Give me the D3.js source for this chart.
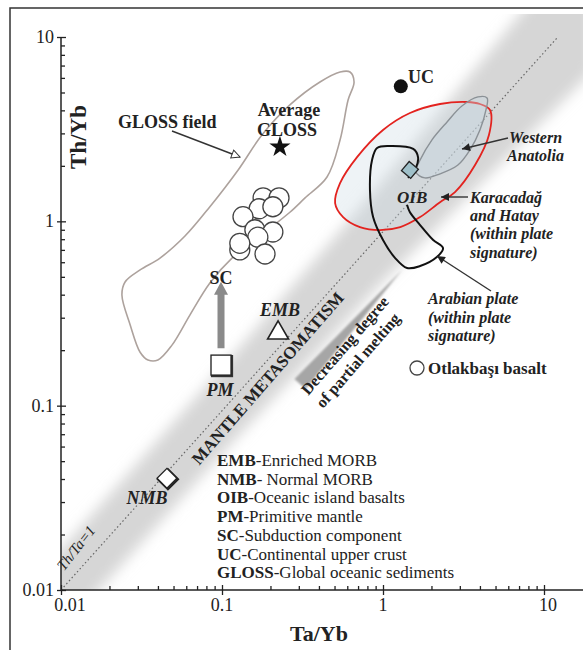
<!DOCTYPE html>
<meta charset="utf-8">
<html>
<head>
<title>Th/Yb vs Ta/Yb</title>
<style>
  body { margin: 0; background: #fff; }
  svg text { font-family: "Liberation Serif", "Times New Roman", serif; fill: #222; }
</style>
</head>
<body>
<svg width="583" height="650"></svg>
<script src="https://cdn.jsdelivr.net/npm/d3@7/dist/d3.min.js"></script>
<script>

// ---- data (Ta/Yb, Th/Yb) ----
var basaltTa = [0.180, 0.226, 0.170, 0.207, 0.135, 0.160, 0.207, 0.167, 0.129, 0.129, 0.185];
var basaltTh = [1.34, 1.34, 1.17, 1.20, 1.06, 0.90, 0.875, 0.82, 0.70, 0.76, 0.665];

var refNames = ["UC", "GLOSS", "EMB", "PM", "NMB", "OIB"];
var refTa = [1.29, 0.229, 0.223, 0.0986, 0.0455, 1.47];
var refTh = [5.4, 2.53, 0.248, 0.166, 0.0404, 1.90];

// GLOSS field outline
var glossTa = [0.624, 0.661, 0.607, 0.541, 0.449, 0.328, 0.264, 0.185, 0.117, 0.0841, 0.0633, 0.0489, 0.040, 0.0347,
               0.031, 0.0269, 0.0239, 0.025, 0.031, 0.0412, 0.0589, 0.0841, 0.126, 0.177, 0.264, 0.406, 0.541];
var glossTh = [6.46, 5.70, 4.55, 2.76, 1.74, 1.34, 1.12, 0.875, 0.640, 0.463, 0.311, 0.213, 0.177, 0.177,
               0.195, 0.274, 0.398, 0.469, 0.545, 0.632, 0.832, 1.20, 1.90, 2.94, 4.28, 5.70, 6.46];

// Karacadag and Hatay field (red)
var karaTa = [4.00, 4.62, 4.55, 3.73, 2.80, 2.26, 1.70, 1.28, 0.957, 0.719, 0.565, 0.504, 0.541, 0.690, 1.00, 1.47, 2.26, 3.32];
var karaTh = [4.33, 4.02, 2.94, 2.02, 1.44, 1.27, 1.055, 0.931, 0.897, 0.931, 1.055, 1.257, 1.61, 2.23, 3.13, 3.87, 4.33, 4.44];

// Arabian plate field (black, open at the OIB label)
var arabTa = [1.43, 1.60, 1.65, 1.54, 1.10, 0.919, 0.855, 0.830, 0.868, 1.00, 1.19, 1.41, 1.70, 2.16, 2.36, 2.05, 1.70, 1.47, 1.41];
var arabTh = [1.72, 1.95, 2.23, 2.47, 2.56, 2.50, 2.15, 1.48, 1.055, 0.792, 0.632, 0.558, 0.572, 0.640, 0.716, 0.792, 0.955, 1.12, 1.23];

// Western Anatolia field
var wanaTa = [1.60, 1.70, 2.01, 2.50, 3.09, 3.89, 4.43, 4.36, 4.00, 3.47, 2.92, 2.26, 1.82];
var wanaTh = [1.85, 2.15, 2.76, 3.46, 4.22, 4.73, 4.67, 4.02, 3.13, 2.44, 2.02, 1.81, 1.72];

// Th/Ta = 1 reference line, as drawn on the original
var lineTa = [0.01, 12.2];
var lineTh = [0.01, 10];

// MORB-OIB mantle array (grey band)
var bandTa = [0.006, 0.1, 1, 20];
var bandLo = [0.0036, 0.055, 0.47, 6.5];
var bandHi = [0.0100, 0.16, 1.65, 40];

var majorTicks = [0.01, 0.1, 1, 10];
var tickLabels = ["0.01", "0.1", "1", "10"];

var legendAbbr = ["EMB", "NMB", "OIB", "PM", "SC", "UC", "GLOSS"];
var legendText = ["-Enriched MORB", "- Normal MORB", "-Oceanic island basalts", "-Primitive mantle",
                  "-Subduction component", "-Continental upper crust", "-Global oceanic sediments"];

// ---- chart ----
var svg = d3.select("svg"),
    W = +svg.attr("width"),
    H = +svg.attr("height");

var x = d3.scaleLog().domain([0.01, 10]).range([61, 544]);
var y = d3.scaleLog().domain([0.01, 10]).range([590, 37]);

var minorTicks = [];
[0.01, 0.1, 1].forEach(function(d) {
    for (var k = 2; k <= 9; k++) minorTicks.push(d * k);
});

var defs = svg.append("defs");
defs.append("filter").attr("id", "blur")
    .attr("x", "-30%").attr("y", "-30%").attr("width", "160%").attr("height", "160%")
    .append("feGaussianBlur").attr("stdDeviation", 7);
defs.append("filter").attr("id", "soft")
    .append("feGaussianBlur").attr("stdDeviation", 1.3);
defs.append("clipPath").attr("id", "plotclip")
    .append("rect").attr("x", 61).attr("y", 14).attr("width", W - 61).attr("height", 590 - 14);

defs.append("marker").attr("id", "head")
    .attr("viewBox", "0 0 10 10").attr("refX", 10).attr("refY", 5)
    .attr("markerUnits", "userSpaceOnUse").attr("markerWidth", 10).attr("markerHeight", 8)
    .attr("orient", "auto")
    .append("path").attr("d", "M0,0L10,5L0,10z").attr("fill", "#222");
defs.append("marker").attr("id", "openhead")
    .attr("viewBox", "-1 -1 12 12").attr("refX", 10).attr("refY", 5)
    .attr("markerUnits", "userSpaceOnUse").attr("markerWidth", 12).attr("markerHeight", 10)
    .attr("orient", "auto")
    .append("path").attr("d", "M0,0L10,5L0,10z").attr("fill", "#fff").attr("stroke", "#333").attr("stroke-width", 1.2);

// frame
svg.append("path").attr("d", "M10," + H + "V8H" + W)
    .attr("fill", "none").attr("stroke", "#333").attr("stroke-width", 1.5);

var plot = svg.append("g").attr("clip-path", "url(#plotclip)");

// grey mantle array
var bandPts = bandTa.map(function(t, i) { return [x(t), y(bandHi[i])]; })
    .concat(bandTa.slice().reverse().map(function(t, i) { return [x(t), y(bandLo[bandTa.length - 1 - i])]; }));
plot.append("path")
    .attr("d", d3.line()(bandPts) + "Z")
    .attr("fill", "#d6d6d6")
    .attr("filter", "url(#blur)");

// Th/Ta = 1 line
plot.append("line")
    .attr("x1", x(lineTa[0])).attr("y1", y(lineTh[0]))
    .attr("x2", x(lineTa[1])).attr("y2", y(lineTh[1]))
    .attr("stroke", "#666").attr("stroke-width", 1.2).attr("stroke-dasharray", "1.5,2.5");

// partial melting arrow (tapered)
function taper(x1, y1, x2, y2, w) {
    var dx = x2 - x1, dy = y2 - y1, L = Math.sqrt(dx * dx + dy * dy);
    var nx = -dy / L * w / 2, ny = dx / L * w / 2;
    return "M" + (x1 + nx) + "," + (y1 + ny) + "L" + (x1 - nx) + "," + (y1 - ny) + "L" + x2 + "," + y2 + "Z";
}
svg.append("path").attr("d", taper(300, 384, 402, 270, 15))
    .attr("fill", "#a6a6a6").attr("filter", "url(#soft)");

// fields
var smooth = d3.line().curve(d3.curveCatmullRomClosed.alpha(0.5));
var smoothOpen = d3.line().curve(d3.curveCatmullRom.alpha(0.5));

svg.append("path")
    .attr("d", smooth(karaTa.map(function(t, i) { return [x(t), y(karaTh[i])]; })))
    .attr("fill", "rgba(205,222,230,0.35)").attr("stroke", "#e3231f").attr("stroke-width", 1.8);

svg.append("path")
    .attr("d", smooth(wanaTa.map(function(t, i) { return [x(t), y(wanaTh[i])]; })))
    .attr("fill", "rgba(200,215,225,0.4)").attr("stroke", "#8b9196").attr("stroke-width", 1.4);

svg.append("path")
    .attr("d", smoothOpen(arabTa.map(function(t, i) { return [x(t), y(arabTh[i])]; })))
    .attr("fill", "none").attr("stroke", "#111").attr("stroke-width", 2);

svg.append("path")
    .attr("d", smooth(glossTa.map(function(t, i) { return [x(t), y(glossTh[i])]; })))
    .attr("fill", "none").attr("stroke", "#ada29d").attr("stroke-width", 1.6);

// SC arrow from PM
var pmX = x(refTa[3]);
svg.append("path")
    .attr("d", "M" + (pmX - 3.5) + "," + y(0.205) + "V" + y(0.40) + "H" + (pmX - 7) +
        "L" + pmX + "," + y(0.47) + "L" + (pmX + 7) + "," + y(0.40) + "H" + (pmX + 3.5) + "V" + y(0.205) + "Z")
    .attr("fill", "#8a8a8a");

// axes
var axG = svg.append("g");
axG.append("g").attr("transform", "translate(0,590)")
    .call(d3.axisBottom(x).tickValues(minorTicks).tickSize(-4).tickFormat(""))
    .call(function(g) { g.select(".domain").remove(); });
axG.append("g").attr("transform", "translate(0,590)")
    .call(d3.axisBottom(x).tickValues(majorTicks).tickSize(5).tickFormat(""))
    .call(function(g) { g.select(".domain").remove(); });
axG.append("g").attr("transform", "translate(0,590)")
    .call(d3.axisTop(x).tickValues(majorTicks).tickSize(5).tickFormat(""))
    .call(function(g) { g.select(".domain").remove(); });
axG.append("g").attr("transform", "translate(61,0)")
    .call(d3.axisLeft(y).tickValues(minorTicks).tickSize(-4).tickFormat(""))
    .call(function(g) { g.select(".domain").remove(); });
axG.append("g").attr("transform", "translate(61,0)")
    .call(d3.axisLeft(y).tickValues(majorTicks).tickSize(4).tickFormat(""))
    .call(function(g) { g.select(".domain").remove(); });
axG.append("g").attr("transform", "translate(61,0)")
    .call(d3.axisRight(y).tickValues(majorTicks).tickSize(5).tickFormat(""))
    .call(function(g) { g.select(".domain").remove(); });
axG.selectAll("line").attr("stroke", "#222").attr("stroke-width", 1.3);
axG.append("line").attr("x1", 61).attr("x2", W).attr("y1", 590).attr("y2", 590)
    .attr("stroke", "#222").attr("stroke-width", 1.5);
axG.append("line").attr("x1", 61).attr("x2", 61).attr("y1", 37).attr("y2", 590)
    .attr("stroke", "#222").attr("stroke-width", 1.5);

svg.selectAll(".xlab").data(majorTicks).enter().append("text")
    .attr("x", function(d, i) { return x(d) + (i === 0 ? 9 : (i === 3 ? 4 : 0)); })
    .attr("y", 611).attr("text-anchor", "middle").attr("font-size", 18)
    .text(function(d, i) { return tickLabels[i]; });
svg.selectAll(".ylab").data(majorTicks).enter().append("text")
    .attr("x", 54).attr("y", function(d) { return y(d) + 6; })
    .attr("text-anchor", "end").attr("font-size", 18)
    .text(function(d, i) { return tickLabels[i]; });

svg.append("text").attr("x", 319).attr("y", 641).attr("text-anchor", "middle")
    .attr("font-size", 22).attr("font-weight", "bold").text("Ta/Yb");
svg.append("text").attr("transform", "translate(86,137) rotate(-90)").attr("text-anchor", "middle")
    .attr("font-size", 23).attr("font-weight", "bold").text("Th/Yb");

// rotated band labels
var bandAngle = -49;
svg.append("text").attr("transform", "translate(272,382) rotate(" + bandAngle + ")")
    .attr("text-anchor", "middle").attr("font-size", 17).attr("font-weight", "bold")
    .attr("fill", "#333").text("MANTLE METASOMATISM");
svg.append("text").attr("transform", "translate(349,349) rotate(" + bandAngle + ")")
    .attr("text-anchor", "middle").attr("font-size", 16).attr("font-weight", "bold")
    .text("Decreasing degree");
svg.append("text").attr("transform", "translate(362,364) rotate(" + bandAngle + ")")
    .attr("text-anchor", "middle").attr("font-size", 16).attr("font-weight", "bold")
    .text("of partial melting");
svg.append("text").attr("transform", "translate(80,551) rotate(-52)")
    .attr("text-anchor", "middle").attr("font-size", 15).attr("font-style", "italic")
    .attr("fill", "#444").text("Th/Ta=1");

// reference compositions
svg.append("circle").attr("cx", x(refTa[0])).attr("cy", y(refTh[0])).attr("r", 7).attr("fill", "#111");
svg.append("path").attr("transform", "translate(" + x(refTa[1]) + "," + y(refTh[1]) + ")")
    .attr("d", d3.symbol().type(d3.symbolStar).size(140)()).attr("fill", "#111");
var tri = d3.symbol().type(d3.symbolTriangle).size(190)();
svg.append("path").attr("transform", "translate(" + x(refTa[2]) + "," + y(refTh[2]) + ")")
    .attr("d", tri).attr("fill", "#fff").attr("stroke", "#222").attr("stroke-width", 1.6);
svg.append("rect").attr("x", x(refTa[3]) - 9).attr("y", y(refTh[3]) - 9)
    .attr("width", 20).attr("height", 20)
    .attr("fill", "none").attr("stroke", "#333").attr("stroke-width", 2.2);
svg.append("rect").attr("x", x(refTa[3]) - 10).attr("y", y(refTh[3]) - 10)
    .attr("width", 20).attr("height", 20)
    .attr("fill", "#fff").attr("stroke", "#222").attr("stroke-width", 1.3);
svg.append("path").attr("transform", "translate(" + (x(refTa[4]) + 1) + "," + (y(refTh[4]) + 1) + ") rotate(45)")
    .attr("d", "M-7,-7H7V7H-7Z").attr("fill", "none").attr("stroke", "#222").attr("stroke-width", 2.4);
svg.append("path").attr("transform", "translate(" + x(refTa[4]) + "," + y(refTh[4]) + ") rotate(45)")
    .attr("d", "M-7,-7H7V7H-7Z").attr("fill", "#fff").attr("stroke", "#222").attr("stroke-width", 1.3);
svg.append("path").attr("transform", "translate(" + x(refTa[5]) + "," + y(refTh[5]) + ") rotate(40)")
    .attr("d", "M-6,-6H6V6H-6Z").attr("fill", "#9fc0c9").attr("stroke", "#222").attr("stroke-width", 1.3);

// basalt samples
svg.selectAll(".smp").data(basaltTa).enter().append("circle")
    .attr("cx", function(d) { return x(d); })
    .attr("cy", function(d, i) { return y(basaltTh[i]); })
    .attr("r", 10).attr("fill", "#fff").attr("stroke", "#444").attr("stroke-width", 1.3);

// annotation text
function label(txt, px, py, opts) {
    opts = opts || {};
    return svg.append("text").attr("x", px).attr("y", py)
        .attr("text-anchor", opts.anchor || "start")
        .attr("font-size", opts.size || 17)
        .attr("font-weight", "bold")
        .attr("font-style", opts.italic ? "italic" : "normal")
        .text(txt);
}
label("GLOSS field", 118, 128, {size: 18});
label("Average", 289, 116, {size: 18, anchor: "middle"});
label("GLOSS", 287, 136, {size: 18, anchor: "middle"});
label("UC", 408, 83, {size: 18});
label("Western", 509, 143, {size: 16, italic: true});
label("Anatolia", 507, 161, {size: 16, italic: true});
label("OIB", 397, 203, {size: 17, italic: true});
label("Karacadağ", 470, 203, {size: 16, italic: true});
label("and Hatay", 470, 221, {size: 16, italic: true});
label("(within plate", 470, 239, {size: 16, italic: true});
label("signature)", 470, 258, {size: 16, italic: true});
label("Arabian plate", 428, 304, {size: 16, italic: true});
label("(within plate", 428, 323, {size: 16, italic: true});
label("signature)", 428, 341, {size: 16, italic: true});
label("SC", 221, 284, {size: 18, anchor: "middle"});
label("EMB", 280, 316, {size: 18, anchor: "middle", italic: true});
label("PM", 220, 396, {size: 18, anchor: "middle", italic: true});
label("NMB", 147, 504, {size: 18, anchor: "middle", italic: true});

svg.append("circle").attr("cx", 417).attr("cy", 368).attr("r", 7)
    .attr("fill", "#fff").attr("stroke", "#444").attr("stroke-width", 1.3);
label("Otlakbaşı basalt", 428, 374, {size: 17});

// annotation arrows
function pointer(x1, y1, x2, y2, marker) {
    svg.append("line").attr("x1", x1).attr("y1", y1).attr("x2", x2).attr("y2", y2)
        .attr("stroke", "#333").attr("stroke-width", 1.4)
        .attr("marker-end", "url(#" + marker + ")");
}
pointer(172, 131, 240, 157, "openhead");
pointer(508, 138, 462, 149, "head");
pointer(468, 197, 441, 197, "head");
pointer(491, 291, 437, 256, "head");

// abbreviation list
var leg = svg.append("g").attr("transform", "translate(217,466)");
legendAbbr.forEach(function(a, i) {
    var t = leg.append("text").attr("x", 0).attr("y", i * 18.7).attr("font-size", 17);
    t.append("tspan").attr("font-weight", "bold").text(a);
    t.append("tspan").text(legendText[i]);
});

</script>
</body>
</html>
